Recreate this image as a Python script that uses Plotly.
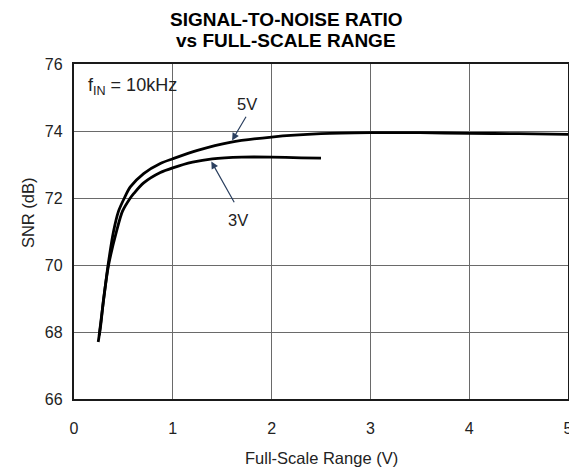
import plotly.graph_objects as go

# Data
x_5v = [0.255, 0.28, 0.31, 0.345, 0.40, 0.45, 0.51, 0.57, 0.705, 0.874, 1.0, 1.25, 1.58, 2.0, 2.5, 3.0, 3.5, 4.0, 4.5, 5.0]
snr_5v = [67.9, 68.5, 69.2, 70.0, 71.0, 71.6, 72.0, 72.33, 72.73, 73.03, 73.17, 73.42, 73.66, 73.82, 73.92, 73.95, 73.95, 73.93, 73.92, 73.9]

x_3v = [0.245, 0.27, 0.30, 0.35, 0.43, 0.49, 0.57, 0.604, 0.705, 0.874, 1.0, 1.2, 1.4, 1.7, 2.0, 2.3, 2.5]
snr_3v = [67.7, 68.2, 69.0, 70.0, 71.0, 71.6, 72.0, 72.13, 72.45, 72.76, 72.9, 73.07, 73.17, 73.22, 73.22, 73.2, 73.19]

x_ticks = [0, 1, 2, 3, 4, 5]
y_ticks = [66, 68, 70, 72, 74, 76]

FONT = "Liberation Sans, Arial, sans-serif"

fig = go.Figure()
for xs, ys, name in [(x_5v, snr_5v, "5V"), (x_3v, snr_3v, "3V")]:
    fig.add_trace(go.Scatter(x=xs, y=ys, mode="lines", name=name,
                             line=dict(color="black", width=2.8, shape="spline", smoothing=0.8),
                             showlegend=False))

axis_common = dict(showgrid=True, gridcolor="#6a6a6a", gridwidth=1, automargin=False,
                   showline=True, linecolor="#1a1a1a", linewidth=2.4, mirror=True,
                   zeroline=False, ticks="", tickfont=dict(size=16, color="#222", family=FONT))

fig.update_xaxes(range=[0, 5], tickvals=x_ticks, ticklabelstandoff=14, **axis_common)
fig.update_yaxes(range=[66, 76], tickvals=y_ticks, ticklabelstandoff=6, **axis_common)

fig.update_layout(
    width=569, height=462,
    margin=dict(l=66, r=9, t=56, b=71),
    paper_bgcolor="white", plot_bgcolor="white",
    font=dict(family=FONT, size=16, color="#222"),
)

# Title (two lines)
fig.add_annotation(text="<b>SIGNAL-TO-NOISE RATIO</b>", xref="paper", yref="paper",
                   x=0.43, y=1, yshift=45, xanchor="center", yanchor="middle",
                   showarrow=False, font=dict(size=19, color="black"))
fig.add_annotation(text="<b>vs FULL-SCALE RANGE</b>", xref="paper", yref="paper",
                   x=0.43, y=1, yshift=24, xanchor="center", yanchor="middle",
                   showarrow=False, font=dict(size=19, color="black"))

# Axis titles
fig.add_annotation(text="Full-Scale Range (V)", xref="paper", yref="paper",
                   x=0.5, y=0, yshift=-59, xanchor="center", yanchor="middle",
                   showarrow=False, font=dict(size=16.5))
fig.add_annotation(text="SNR (dB)", xref="paper", yref="paper", textangle=-90,
                   x=0, xshift=-46, y=0.555, xanchor="center", yanchor="middle",
                   showarrow=False, font=dict(size=16.5))

# In-plot labels
fig.add_annotation(text="f<sub>IN</sub> = 10kHz", x=0.125, y=75.33, xanchor="left",
                   showarrow=False, font=dict(size=18))
fig.add_annotation(text="5V", x=1.75, y=74.8, showarrow=False, font=dict(size=16.5))
fig.add_annotation(text="3V", x=1.66, y=71.33, showarrow=False, font=dict(size=16.5))
# arrows
fig.add_annotation(x=1.6, y=73.72, ax=1.75, ay=74.47, axref="x", ayref="y",
                   showarrow=True, arrowhead=2, arrowsize=1.2, arrowwidth=1.2, text="")
fig.add_annotation(x=1.39, y=73.09, ax=1.63, ay=71.83, axref="x", ayref="y",
                   showarrow=True, arrowhead=2, arrowsize=1.2, arrowwidth=1.2, text="")

fig.write_html("out.html")
